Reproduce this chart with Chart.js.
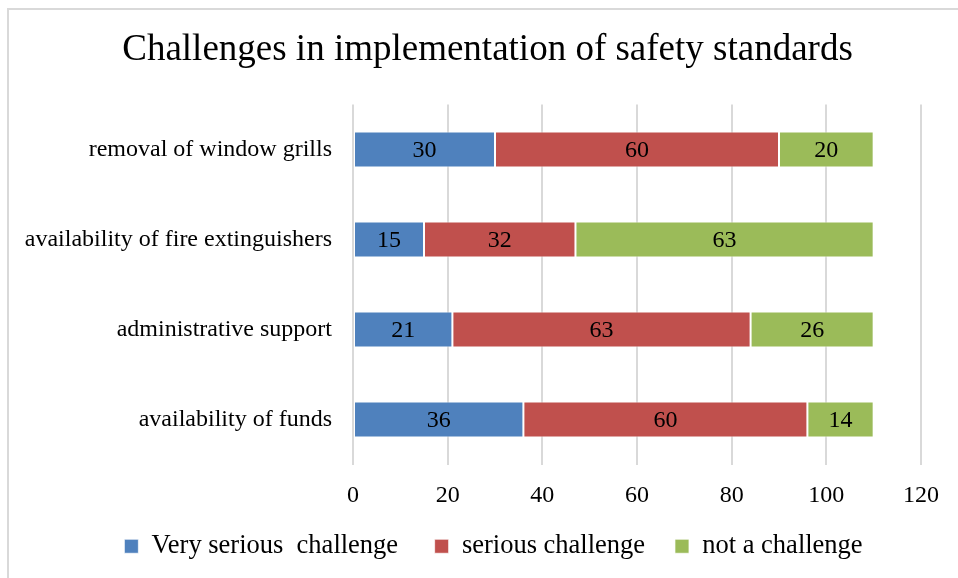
<!DOCTYPE html>
<html>
<head>
  <title>Challenges in implementation of safety standards</title>
  <script src="https://cdn.jsdelivr.net/npm/chart.js"></script>
  <style>
    body { margin: 0; background: #fff; overflow: hidden; }
    #frame { position: absolute; left: 7px; top: 8px; width: 980px; height: 600px; border: 2px solid #d9d9d9; }
    #myChart { position: absolute; left: 0; top: 0; }
  </style>
</head>
<body>
  <div id="frame"></div>
  <canvas id="myChart" width="958" height="578"></canvas>
  <script>
    // chart data
    const categories = ['removal of window grills', 'availability of fire extinguishers', 'administrative support', 'availability of funds'];
    const verySerious = [30, 15, 21, 36];
    const serious = [60, 32, 63, 60];
    const notChallenge = [20, 63, 26, 14];
    const xTicks = [0, 20, 40, 60, 80, 100, 120];

    const serif = 'Liberation Serif';
    // extra space after each legend entry, the gaps in the original are wide
    const legendGap = ['    ', '   ', ''];

    // write the value in the middle of each bar segment
    const barLabels = {
      id: 'barLabels',
      afterDatasetsDraw(chart) {
        const ctx = chart.ctx;
        ctx.save();
        ctx.font = '24px "' + serif + '"';
        ctx.fillStyle = '#000';
        ctx.textAlign = 'center';
        ctx.textBaseline = 'middle';
        chart.data.datasets.forEach((ds, i) => {
          chart.getDatasetMeta(i).data.forEach((bar, j) => {
            const p = bar.getCenterPoint();
            ctx.fillText(ds.data[j], p.x, p.y + 1);
          });
        });
        ctx.restore();
      }
    };

    // nudge title and legend so they sit where the original has them
    const shiftBlocks = {
      id: 'shiftBlocks',
      afterLayout(chart) {
        chart.titleBlock.left += 27;
        chart.titleBlock.right += 27;
        chart.legend.left += 33;
        chart.legend.right += 33;
      }
    };

    const ctx = document.getElementById('myChart').getContext('2d');
    const myChart = new Chart(ctx, {
      type: 'bar',
      data: {
        labels: categories,
        datasets: [
          { label: 'Very serious  challenge', data: verySerious, backgroundColor: '#4f81bd' },
          { label: 'serious challenge', data: serious, backgroundColor: '#c0504d' },
          { label: 'not a challenge', data: notChallenge, backgroundColor: '#9bbb59' }
        ].map(d => Object.assign(d, { borderColor: 'rgba(255,255,255,0.7)', borderWidth: 1, borderSkipped: false, barPercentage: 0.4, categoryPercentage: 1 }))
      },
      options: {
        indexAxis: 'y',
        responsive: false,
        animation: false,
        layout: { padding: { left: 0, right: 37, top: 0, bottom: 8.5 } },
        scales: {
          x: {
            stacked: true,
            min: 0,
            max: 120,
            afterBuildTicks(scale) { scale.ticks = xTicks.map(v => ({ value: v })); },
            afterFit(scale) { scale.height = 58.5; },
            grid: { color: '#d9d9d9', lineWidth: 2, drawTicks: false },
            border: { display: false },
            ticks: { padding: 17, color: '#000', font: { family: serif, size: 24 } }
          },
          y: {
            stacked: true,
            afterFit(scale) { scale.width = 353; },
            grid: { display: false, drawTicks: false },
            border: { display: false },
            ticks: { padding: 21, color: '#000', font: { family: serif, size: 24 } }
          }
        },
        plugins: {
          title: {
            display: true,
            text: 'Challenges in implementation of safety standards',
            color: '#000',
            font: { family: serif, size: 37, weight: 'normal' },
            padding: { top: 28, bottom: 32 }
          },
          legend: {
            position: 'bottom',
            labels: {
              color: '#000',
              boxWidth: 14,
              boxHeight: 14,
              padding: 10,
              font: { family: serif, size: 26.5 },
              generateLabels(chart) {
                const items = Chart.defaults.plugins.legend.labels.generateLabels(chart);
                items.forEach((it, i) => { it.text += legendGap[i]; });
                return items;
              }
            }
          },
          tooltip: { enabled: false }
        }
      },
      plugins: [barLabels, shiftBlocks]
    });
  </script>
</body>
</html>
